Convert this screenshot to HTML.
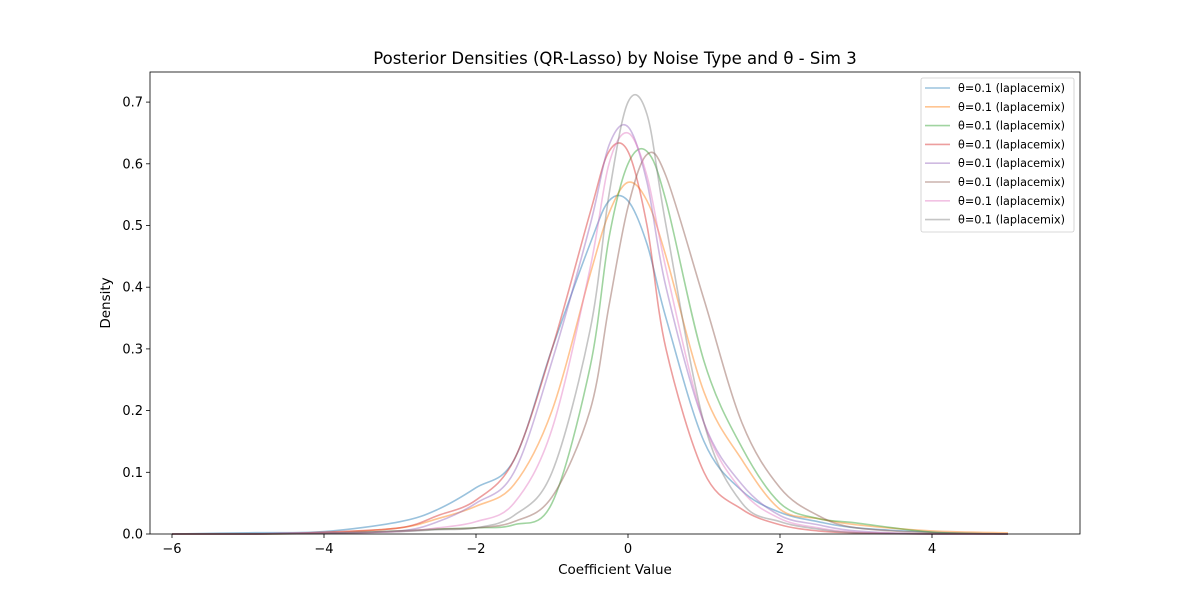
<!DOCTYPE html>
<html><head><meta charset="utf-8"><style>
body{margin:0;background:#fff;}
svg text{font-family:"DejaVu Sans","Liberation Sans",sans-serif;}
</style></head><body>
<svg id="chart" width="1200" height="600" xmlns="http://www.w3.org/2000/svg">
<rect width="1200" height="600" fill="#fff"/>
<text x="615" y="64" font-size="16.5" text-anchor="middle">Posterior Densities (QR-Lasso) by Noise Type and θ - Sim 3</text>
<g id="curves"></g>
<g id="axes"></g>
<text x="615" y="574" font-size="13.5" text-anchor="middle">Coefficient Value</text>
<text transform="translate(110,303) rotate(-90)" font-size="13.5" text-anchor="middle">Density</text>
<g id="legend"></g>
</svg>
<script>
const xGrid=[-6,-5,-4,-3,-2.5,-2,-1.5,-1,-0.5,-0.25,0,0.25,0.5,1,1.5,2,2.5,3,4,5];
const blue  =[0,0.002,0.004,0.02,0.04,0.075,0.12,0.3,0.47,0.54,0.54,0.47,0.35,0.15,0.07,0.035,0.02,0.01,0.003,0];
const orange=[0,0,0.002,0.01,0.025,0.045,0.08,0.2,0.42,0.52,0.57,0.54,0.45,0.23,0.12,0.04,0.025,0.015,0.005,0.002];
const green =[0,0,0.001,0.005,0.008,0.01,0.015,0.05,0.27,0.48,0.6,0.62,0.54,0.28,0.14,0.05,0.025,0.018,0.003,0];
const red   =[0,0,0.003,0.01,0.03,0.055,0.12,0.3,0.52,0.62,0.62,0.5,0.3,0.1,0.04,0.015,0.005,0.002,0,0];
const purple=[0,0,0.002,0.005,0.02,0.05,0.1,0.28,0.5,0.63,0.66,0.57,0.4,0.18,0.08,0.03,0.015,0.005,0,0];
const brown =[0,0,0.001,0.005,0.008,0.01,0.02,0.06,0.2,0.37,0.53,0.615,0.58,0.38,0.18,0.075,0.03,0.01,0.002,0];
const pink  =[0,0,0.001,0.004,0.01,0.02,0.05,0.17,0.43,0.6,0.65,0.58,0.43,0.18,0.07,0.025,0.01,0.003,0,0];
const gray  =[0,0,0.001,0.004,0.007,0.01,0.03,0.1,0.33,0.55,0.7,0.68,0.5,0.18,0.05,0.02,0.008,0.002,0,0];
const seriesList=[blue,orange,green,red,purple,brown,pink,gray];
const seriesNames=["blue","orange","green","red","purple","brown","pink","gray"];
const legendLabels=["θ=0.1 (laplacemix)","θ=0.1 (laplacemix)","θ=0.1 (laplacemix)","θ=0.1 (laplacemix)","θ=0.1 (laplacemix)","θ=0.1 (laplacemix)","θ=0.1 (laplacemix)","θ=0.1 (laplacemix)"];
const xTicks=[-6,-4,-2,0,2,4];
const yTicks=[0,0.1,0.2,0.3,0.4,0.5,0.6,0.7];
const colors=["#1f77b4","#ff7f0e","#2ca02c","#d62728","#9467bd","#8c564b","#e377c2","#7f7f7f"];
const NS="http://www.w3.org/2000/svg";
const L=150,R=1080,T=72,B=534;
const xs=v=>628+76*v;
const ys=v=>534-617*v;
function mk(tag,attrs,parent){const e=document.createElementNS(NS,tag);for(const k in attrs)e.setAttribute(k,attrs[k]);parent.appendChild(e);return e;}
const cg=document.getElementById('curves');
seriesList.forEach((s,i)=>{
  const pts=xGrid.map((x,j)=>[xs(x),ys(s[j])]);
  let d=`M${pts[0][0]},${pts[0][1]}`;
  for(let k=0;k<pts.length-1;k++){
    const p0=pts[Math.max(k-1,0)],p1=pts[k],p2=pts[k+1],p3=pts[Math.min(k+2,pts.length-1)];
    const c1=[p1[0]+(p2[0]-p0[0])/6,p1[1]+(p2[1]-p0[1])/6];
    const c2=[p2[0]-(p3[0]-p1[0])/6,p2[1]-(p3[1]-p1[1])/6];
    d+=` C${c1[0]},${Math.min(c1[1],B)} ${c2[0]},${Math.min(c2[1],B)} ${p2[0]},${p2[1]}`;
  }
  const p=mk('path',{d:d,fill:'none',stroke:colors[i],'stroke-width':1.6,'stroke-opacity':0.45},cg);
  
  
});
const ag=document.getElementById('axes');
const fr=mk('rect',{x:L,y:T,width:R-L,height:B-T,fill:'none',stroke:'#000','stroke-width':0.8},ag);


xTicks.forEach(t=>{
  mk('line',{x1:xs(t),x2:xs(t),y1:B,y2:B+4,stroke:'#000','stroke-width':0.8},ag);
  const tx=mk('text',{x:xs(t),y:B+19,'font-size':13,'text-anchor':'middle'},ag);
  tx.textContent=(t<0?'−'+(-t):t);
  
  
});
yTicks.forEach(t=>{
  mk('line',{x1:L-4,x2:L,y1:ys(t),y2:ys(t),stroke:'#000','stroke-width':0.8},ag);
  const tx=mk('text',{x:L-7,y:ys(t)+4.5,'font-size':13,'text-anchor':'end'},ag);
  tx.textContent=t.toFixed(1);
  
  
});
const lg=document.getElementById('legend');
const box=mk('rect',{x:921,y:78,width:153,height:154,rx:2,fill:'#fff','fill-opacity':0.8,stroke:'#ccc','stroke-width':0.8},lg);


legendLabels.forEach((lab,i)=>{
  const y=88+i*18.8;
  const ln=mk('line',{x1:925,x2:950,y1:y,y2:y,stroke:colors[i],'stroke-width':1.6,'stroke-opacity':0.45},lg);
  
  
  const tx=mk('text',{x:958,y:y+4,'font-size':11.2},lg);
  tx.textContent=lab;
  
  
});
</script>
</body></html>
